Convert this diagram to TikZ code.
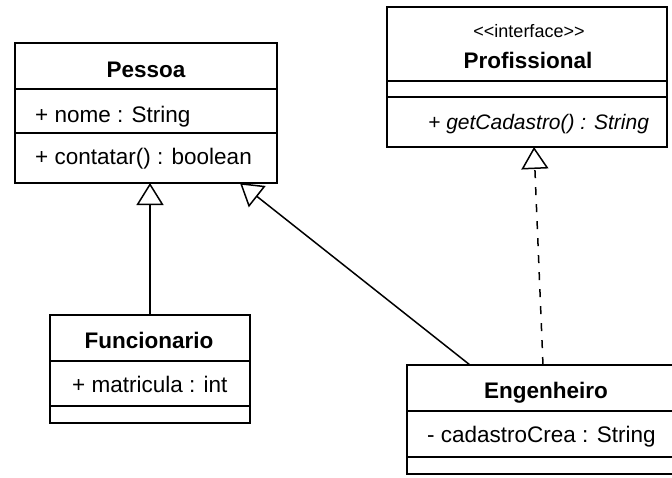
\documentclass[tikz,border=0pt]{standalone}
\usepackage{fontspec}
\setmainfont{Liberation Sans}
\usetikzlibrary{arrows.meta,calc}
\begin{document}
\begin{tikzpicture}[x=1pt,y=-1pt,
 cls/.style={draw, line width=2.4pt, inner sep=0pt, outer sep=0pt, anchor=north west},
 sepline/.style={line width=1.6pt},
 ttl/.style={font=\fontsize{22.5}{26}\selectfont\bfseries, inner sep=0pt, anchor=base},
 stereo/.style={font=\fontsize{18}{21}\selectfont, inner sep=0pt, anchor=base},
 attr/.style={font=\fontsize{22.5}{26}\selectfont, inner sep=0pt, anchor=base west},
 gen/.style={line width=1.5pt, -{Triangle[open,length=22pt,width=27pt,fill=white]}},
 real/.style={gen, dash pattern=on 8pt off 9pt},
]
\fill[white] (0,0) rectangle (672,477);
\useasboundingbox (0,0) rectangle (672,477);

% Pessoa
\node[cls, minimum width=262pt, minimum height=140pt] (pessoa) at (15,43) {};
\draw[sepline] ($(pessoa.north west)+(0,46)$) -- ($(pessoa.north east)+(0,46)$);
\draw[sepline] ($(pessoa.north west)+(0,90)$) -- ($(pessoa.north east)+(0,90)$);
\node[ttl] (pessoaT) at (146,77) {Pessoa};
\node[attr] (pessoaA) at (35,122) {+ nome : String};
\node[attr] (pessoaM) at (35,164) {+ contatar() : boolean};

% Profissional
\node[cls, minimum width=280pt, minimum height=140pt] (prof) at (387,7) {};
\draw[sepline] ($(prof.north west)+(0,74)$) -- ($(prof.north east)+(0,74)$);
\draw[sepline] ($(prof.north west)+(0,90)$) -- ($(prof.north east)+(0,90)$);
\node[stereo] (profS) at (529,37) {{<}{<}interface{>}{>}};
\node[ttl] (profT) at (528,68) {Profissional};
\node[attr, font=\fontsize{21}{24}\selectfont\itshape] (profM) at (428,129) {+ getCadastro() : String};

% Funcionario
\node[cls, minimum width=200pt, minimum height=108pt] (fun) at (50,315) {};
\draw[sepline] ($(fun.north west)+(0,46)$) -- ($(fun.north east)+(0,46)$);
\draw[sepline] ($(fun.north west)+(0,91)$) -- ($(fun.north east)+(0,91)$);
\node[ttl] (funT) at (149,348) {Funcionario};
\node[attr] (funA) at (72,392) {+ matricula : int};

% Engenheiro
\node[cls, minimum width=279pt, minimum height=109pt] (eng) at (407,365) {};
\draw[sepline] ($(eng.north west)+(0,46)$) -- ($(eng.north east)+(0,46)$);
\draw[sepline] ($(eng.north west)+(0,92)$) -- ($(eng.north east)+(0,92)$);
\node[ttl] (engT) at (546,398) {Engenheiro};
\node[attr] (engA) at (427,442) {- cadastroCrea : String};

% connectors
\coordinate (e1) at ($(eng.north west)+(63,0)$);
\coordinate (p1) at ($(pessoa.south west)+(225,0)$);
\coordinate (e2) at ($(eng.north west)+(136,0)$);
\coordinate (q1) at ($(prof.south west)+(147,0)$);
\draw[gen] (fun.north) -- (fun.north |- pessoa.south);
\draw[gen] (e1) -- (p1);
\draw[real] (e2) -- (q1);
\end{tikzpicture}
\end{document}
